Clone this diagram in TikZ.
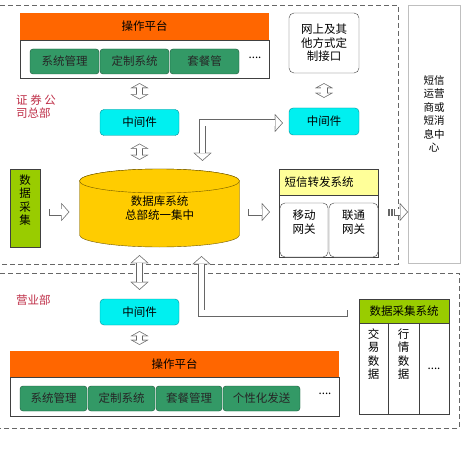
\documentclass[tikz,border=0pt]{standalone}
\usepackage{fontspec}
\setmainfont{Noto Sans CJK SC}
\usepackage{tikz}
\usetikzlibrary{arrows.meta}
\usetikzlibrary{calc}

\definecolor{platorange}{RGB}{255,102,0}
\definecolor{btngreen}{RGB}{51,153,102}
\definecolor{btnedge}{RGB}{25,85,55}
\definecolor{midcyan}{RGB}{0,240,240}
\definecolor{midedge}{RGB}{0,140,150}
\definecolor{dbgold}{RGB}{255,204,0}
\definecolor{dbedge}{RGB}{110,85,0}
\definecolor{leafgreen}{RGB}{153,204,0}
\definecolor{paleyellow}{RGB}{255,255,153}
\definecolor{deptred}{RGB}{190,45,70}

\tikzset{
hollowout/.style={line width=7pt,draw=black!60,line join=miter,>={Triangle[width=18pt,length=8pt,line width=0.1pt]}},
hollowin/.style={line width=5.6pt,draw=white,line join=miter,>={Triangle[width=14.3pt,length=6.4pt,line width=0.1pt]},shorten >=0.95pt,shorten <=0.95pt},
hollowouts/.style={line width=7pt,draw=black!60,line join=miter,>={Triangle[width=18pt,length=5pt,line width=0.1pt]}},
hollowins/.style={line width=5.6pt,draw=white,line join=miter,>={Triangle[width=12.6pt,length=3.5pt,line width=0.1pt]},shorten >=0.8pt,shorten <=0.8pt}
}
\newcommand{\hollow}[3][]{%
\draw[hollowout#1,#2] #3;
\draw[hollowin#1,#2] #3;}

\begin{document}
\begin{tikzpicture}[x=1pt,y=1pt,
	every node/.style={font=\fontsize{11.5}{13.5}\selectfont,inner sep=0pt},
	plat/.style={fill=platorange,minimum height=27pt},
	panel/.style={draw=black!75,fill=white},
	btn/.style={draw=btnedge,fill=btngreen,rounded corners=3pt,minimum height=25pt,text=black!85},
	mid/.style={draw=midedge,fill=midcyan,rounded corners=4pt,minimum width=79pt,minimum height=26pt},
	rbox/.style={draw=black!75,fill=white,rounded corners=5pt},
	dept/.style={text=deptred,align=left,anchor=west},
	zone/.style={draw=black!60,dash pattern=on 5pt off 3pt}
	]
\useasboundingbox (0,0) rectangle (465,-457);

\draw[zone] (0,-5) -- (398,-5) -- (398,-264) -- (0,-264);
\draw[zone] (0,-273) -- (459,-273) -- (459,-428) -- (0,-428);

\node[draw=black!25,minimum width=52pt,minimum height=258pt,
	label={[align=center,yshift=20pt,font=\fontsize{10.5}{13.5}\selectfont]center:{短信\\运营\\商或\\短消\\息中\\心}}] (smc) at (434,-134) {};

% head office
\node[panel,minimum width=249pt,minimum height=38pt] (body1) at (144.5,-59) {};
\node[plat,minimum width=249pt] (plat1) at (144.5,-26.5) {操作平台};
\node[btn,minimum width=69pt] (sys1) at (64.5,-61.5) {系统管理};
\node[btn,minimum width=69pt] (cust1) at (134.5,-61.5) {定制系统};
\node[btn,minimum width=69pt] (pkg1) at (204.5,-61.5) {套餐管};
\node (more1) at (255,-58) {....};

\node[dept] (hq) at (16,-106.5) {证 券 公\\司总部};
\node[mid] (mid1) at (139.5,-122.5) {中间件};

\node[rbox,minimum width=70pt,minimum height=60pt,align=center] (web) at (324,-43) {网上及其\\他方式定\\制接口};
\node[mid,minimum width=70pt,minimum height=27pt] (mid2) at (324,-121.5) {中间件};

\draw[draw=dbedge,fill=dbgold] (79.5,-181) -- (79.5,-235) arc[start angle=180,end angle=360,x radius=80pt,y radius=12pt]
	-- (239.5,-181) arc[start angle=0,end angle=180,x radius=80pt,y radius=12pt] -- cycle;
\draw[draw=dbedge,fill=dbgold] (159.5,-181) ellipse[x radius=80pt,y radius=12pt];
\node[align=center,minimum width=160pt,minimum height=78pt] (db) at (159.5,-208) {数据库系统\\总部统一集中};

\node[draw=black!75,fill=leafgreen,minimum width=30pt,minimum height=78pt,
	label={[align=center,yshift=8pt]center:{数\\据\\采\\集}}] (dc) at (25,-208) {};

\node[panel,minimum width=99pt,minimum height=62pt] (smsbody) at (328.5,-226) {};
\node[draw=black!75,fill=paleyellow,minimum width=99pt,minimum height=26pt,text width=88pt,align=left] (sms) at (328.5,-182) {短信转发系统};
\node[rbox,minimum width=48pt,minimum height=54pt,label={[align=center,yshift=8pt]center:{移动\\网关}}] (gwm) at (304,-230) {};
\node[rbox,minimum width=49pt,minimum height=54pt,label={[align=center,yshift=8pt]center:{联通\\网关}}] (gwu) at (353.5,-230) {};

\hollow[s]{<->}{($(body1.south -| mid1)+(0,-5)$) -- ($(mid1.north)+(0,10)$)}
\hollow[s]{<->}{($(mid1.south)+(0,-8)$) -- ($(mid1 |- db.north)+(0,9)$)}
\hollow[s]{<->}{($(web.south)+(0,-10)$) -- ($(mid2.north)+(0,10)$)}
\hollow{<->}{($(db.north)+(43,8)$) |- ($(mid2.west)+(-6,-1.5)$)}
\hollow{->}{($(dc.east)+(9,-4)$) -- ($(dc.east -| db.west)+(-10,-4)$)}
\hollow{->}{($(db.east)+(8.5,-4)$) -- ($(db.east -| sms.west)+(-9,-4)$)}
\hollow{->}{($(smsbody.east)+(16,14)$) -- ($(smsbody.east -| smc.west)+(0,14)$)}
\fill[black!60] ($(smsbody.east)+(10,10.5)$) rectangle ++(1.6,7);
\fill[black!60] ($(smsbody.east)+(13,10.5)$) rectangle ++(1.6,7);

% branch
\node[dept] (branch) at (16,-300) {营业部};
\node[mid] (mid3) at (139.5,-312) {中间件};

\node[panel,minimum width=329pt,minimum height=39pt] (body2) at (174.5,-396.5) {};
\node[plat,minimum width=329pt,minimum height=26pt] (plat2) at (174.5,-364) {操作平台};
\node[btn,minimum width=67pt] (sys2) at (53.5,-398.5) {系统管理};
\node[btn,minimum width=67pt] (cust2) at (121.5,-398.5) {定制系统};
\node[btn,minimum width=66pt] (pkg2) at (189,-398.5) {套餐管理};
\node[btn,minimum width=77pt] (pers2) at (261.5,-398.5) {个性化发送};
\node (more2) at (325,-394) {....};

\node[draw=black!75,fill=leafgreen,minimum width=90pt,minimum height=24pt] (dcs) at (404,-311) {数据采集系统};
\node[panel,minimum width=29pt,minimum height=91pt,label={[align=center,yshift=14.5pt]center:{交\\易\\数\\据}}] (trade) at (373.5,-368.5) {};
\node[panel,minimum width=31pt,minimum height=91pt,label={[align=center,yshift=14.5pt]center:{行\\情\\数\\据}}] (quote) at (403.5,-368.5) {};
\node[panel,minimum width=30pt,minimum height=91pt] (rest) at (434,-368.5) {....};

\hollow{<->}{($(db.south -| mid3)+(0,-8)$) -- ($(mid3.north)+(0,9)$)}
\hollow[s]{<->}{($(mid3.south)+(0,-6)$) -- ($(mid3 |- plat2.north)+(0,6)$)}
\hollow{->}{($(dcs.west)+(-11,-2)$) -| ($(db.south)+(42,-9)$)}

\end{tikzpicture}
\end{document}
